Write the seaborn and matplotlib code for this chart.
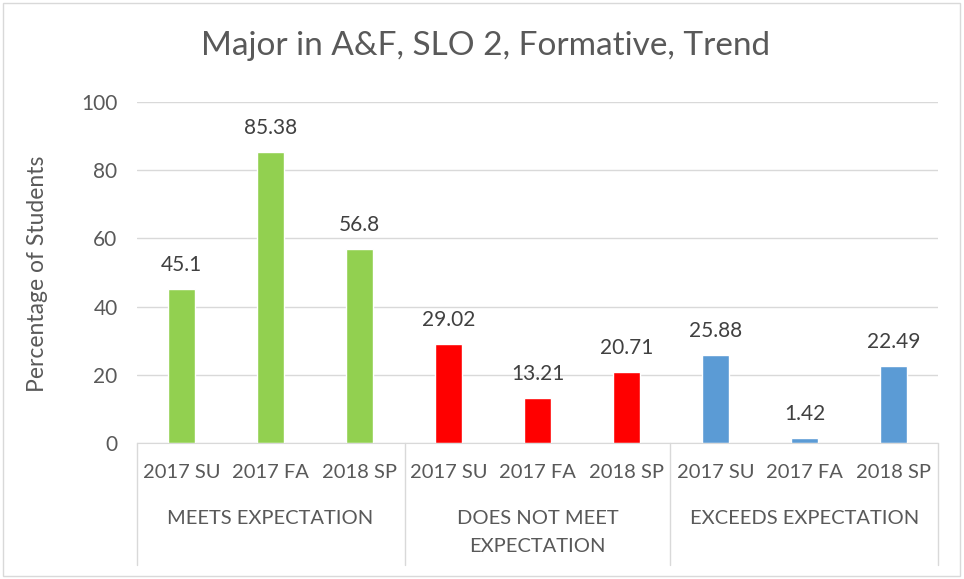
import matplotlib
matplotlib.use("Agg")
import matplotlib.pyplot as plt
import seaborn as sns
import pandas as pd
from matplotlib.lines import Line2D
from matplotlib.patches import Rectangle

groups = ["MEETS EXPECTATION", "DOES NOT MEET\nEXPECTATION", "EXCEEDS EXPECTATION"]
terms = ["2017 SU", "2017 FA", "2018 SP"]
meets = [45.1, 85.38, 56.8]
not_meet = [29.02, 13.21, 20.71]
exceeds = [25.88, 1.42, 22.49]
colors = ["#92D050", "#FF0000", "#5B9BD5"]
yticks = [0, 20, 40, 60, 80, 100]

rows = []
for g, vals in zip(groups, [meets, not_meet, exceeds]):
    for t, v in zip(terms, vals):
        rows.append({"key": g + "|" + t, "group": g, "term": t, "value": v})
df = pd.DataFrame(rows)

sns.set_style("white")
plt.rcParams["font.family"] = ["Lato", "DejaVu Sans"]
txt = "#595959"

fig = plt.figure(figsize=(9.64, 5.79), dpi=100)
ax = fig.add_axes([137/964, 1-443/579, (938-137)/964, (443-102)/579])

sns.barplot(data=df, x="key", y="value", hue="group", palette=colors,
            dodge=False, width=0.31, ax=ax, legend=False, saturation=1)

ax.set_ylim(0, 100)
ax.set_xlim(-0.5, 8.5)
ax.set_yticks(yticks)
ax.set_yticklabels([str(v) for v in yticks], fontsize=15, color=txt)
ax.yaxis.grid(True, color="#D9D9D9", linewidth=1)
ax.set_axisbelow(True)
for s in ["top", "right", "left"]:
    ax.spines[s].set_visible(False)
ax.spines["bottom"].set_color("#D9D9D9")
ax.tick_params(axis="y", length=0, pad=14)
ax.tick_params(axis="x", length=0, pad=15)
ax.set_xticks(range(9))
ax.set_xticklabels([r["term"] for r in rows], fontsize=14.5, color=txt)
ax.set_xlabel("")
ax.set_ylabel("Percentage of Students", fontsize=16.5, color=txt)
ax.yaxis.set_label_coords((48-137)/801, 0.496)

for i, r in enumerate(rows):
    ax.annotate(str(r["value"]), (i, r["value"]), xytext=(0, 10),
                textcoords="offset points", ha="center", va="bottom",
                fontsize=15, color="#404040")

# category separator lines
for xpix in [137, 405, 670, 938]:
    fig.add_artist(Line2D([xpix/964, xpix/964], [1-443/579, 1-565/579],
                          color="#D9D9D9", linewidth=1))
for k, g in enumerate(groups):
    xc = (137 + (938-137) * (3*k + 1.5) / 9) / 964
    fig.text(xc, 1-510/579, g, ha="center", va="top", fontsize=14.5,
             color=txt, linespacing=1.75)

fig.text(486/964, 1-46/579, "Major in A&F, SLO 2, Formative, Trend",
         ha="center", va="center", fontsize=24, color=txt)

fig.add_artist(Rectangle((3/964, 3/579), 957/964, 573/579, fill=False,
                         edgecolor="#D9D9D9", linewidth=1, transform=fig.transFigure))

fig.savefig("out.png", dpi=100)
